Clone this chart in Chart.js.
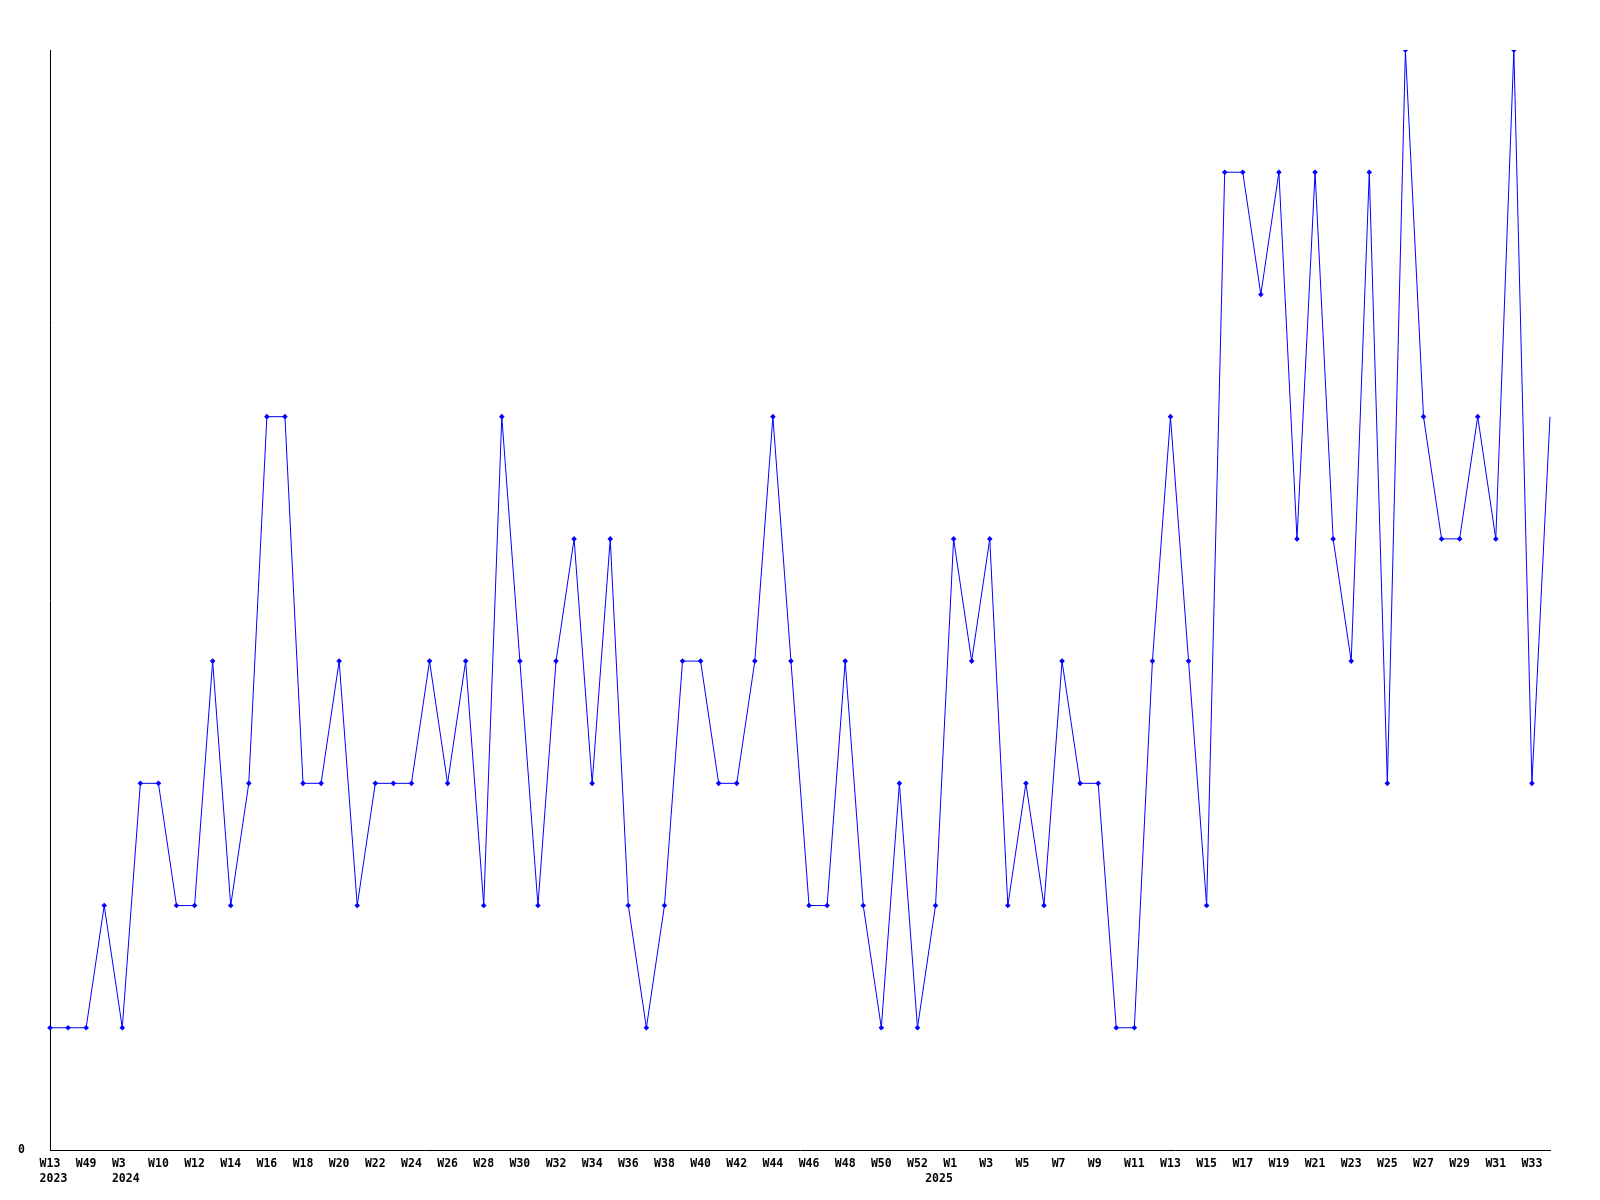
<!DOCTYPE html>
<html>
<head>
<meta charset="utf-8">
<script src="https://cdn.jsdelivr.net/npm/chart.js@4/dist/chart.umd.min.js"></script>
<style>
  html, body { margin: 0; padding: 0; background: #fff; }
  #wrap { width: 1600px; height: 1200px; }
</style>
</head>
<body>
<div id="wrap"><canvas id="weekChart" width="1600" height="1200"></canvas></div>
<script>
// week labels, one per point (only every second one is printed)
const weeks = [
    'W13', 'W40', 'W49', 'W51', 'W3', 'W8', 'W10', 'W11', 'W12', 'W13',
    'W14', 'W15', 'W16', 'W17', 'W18', 'W19', 'W20', 'W21', 'W22', 'W23',
    'W24', 'W25', 'W26', 'W27', 'W28', 'W29', 'W30', 'W31', 'W32', 'W33',
    'W34', 'W35', 'W36', 'W37', 'W38', 'W39', 'W40', 'W41', 'W42', 'W43',
    'W44', 'W45', 'W46', 'W47', 'W48', 'W49', 'W50', 'W51', 'W52', 'W1',
    'W1', 'W2', 'W3', 'W4', 'W5', 'W6', 'W7', 'W8', 'W9', 'W10',
    'W11', 'W12', 'W13', 'W14', 'W15', 'W16', 'W17', 'W18', 'W19', 'W20',
    'W21', 'W22', 'W23', 'W24', 'W25', 'W26', 'W27', 'W28', 'W29', 'W30',
    'W31', 'W32', 'W33', 'W34'
];
// year printed under the first point of each year
const years = { 0: '2023', 4: '2024', 49: '2025' };

const counts = [
    1, 1, 1, 2, 1, 3, 3, 2, 2, 4,
    2, 3, 6, 6, 3, 3, 4, 2, 3, 3,
    3, 4, 3, 4, 2, 6, 4, 2, 4, 5,
    3, 5, 2, 1, 2, 4, 4, 3, 3, 4,
    6, 4, 2, 2, 4, 2, 1, 3, 1, 2,
    5, 4, 5, 2, 3, 2, 4, 3, 3, 1,
    1, 4, 6, 4, 2, 8, 8, 7, 8, 5,
    8, 5, 4, 8, 3, 9, 6, 5, 5, 6,
    5, 9, 3, 6
];

const yMax = 9;

Chart.defaults.font.family = "'DejaVu Sans Mono', monospace";
Chart.defaults.font.size = 11.5;
Chart.defaults.font.weight = 'bold';
Chart.defaults.color = '#000';

// labels are drawn left-aligned, starting 1.5 characters before the tick;
// with a monospace font that is a centred string padded to 3 characters
function pad3(s) {
    return (s + '   ').slice(0, Math.max(3, s.length));
}
function padYear(s) {
    return ' ' + s;
}

const ctx = document.getElementById('weekChart').getContext('2d');

new Chart(ctx, {
    type: 'line',
    data: {
        labels: weeks,
        datasets: [{
            data: counts,
            borderColor: '#0000ff',
            backgroundColor: '#0000ff',
            borderWidth: 1,
            tension: 0,
            fill: false,
            pointStyle: 'rectRot',
            pointRadius: c => c.dataIndex === counts.length - 1 ? 0 : 2.8,
            pointBorderWidth: 0,
            pointBackgroundColor: '#0000ff'
        }]
    },
    options: {
        responsive: false,
        animation: false,
        events: [],
        layout: {
            autoPadding: false,
            padding: { top: 50, right: 50, bottom: 0, left: 0 }
        },
        plugins: {
            legend: { display: false },
            tooltip: { enabled: false }
        },
        scales: {
            x: {
                offset: false,
                grid: { display: false, drawTicks: false },
                border: { display: true, color: '#000', width: 1 },
                ticks: {
                    autoSkip: false,
                    maxRotation: 0,
                    padding: 6,
                    color: '#000',
                    font: { lineHeight: 1.35 },
                    callback: function(val, i) {
                        const wk = i % 2 === 0 ? pad3(weeks[i]) : '';
                        if (years[i]) return [wk, padYear(years[i])];
                        return wk === '' ? null : wk;
                    }
                },
                afterFit: s => { s.height = 50; }
            },
            y: {
                min: 0,
                max: yMax,
                grid: { display: false, drawTicks: false },
                border: { display: true, color: '#000', width: 1 },
                ticks: {
                    stepSize: 1,
                    padding: 25,
                    color: '#000',
                    callback: v => v === 0 ? '0' : null
                },
                afterFit: s => { s.width = 50; }
            }
        }
    }
});
</script>
</body>
</html>
